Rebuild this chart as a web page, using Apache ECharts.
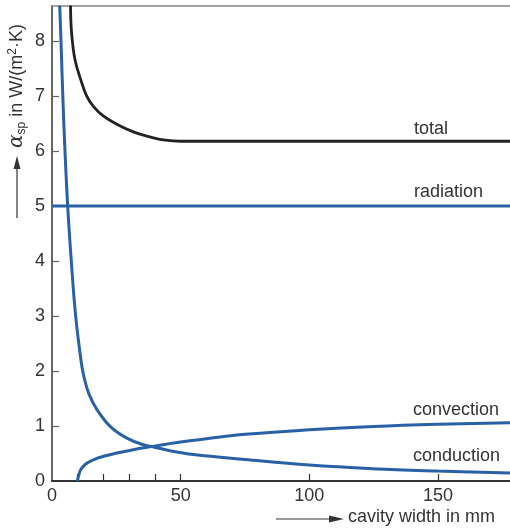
<!DOCTYPE html>
<html>
<head>
<meta charset="utf-8">
<script src="https://cdn.jsdelivr.net/npm/echarts@6/dist/echarts.min.js"></script>
<style>
  html, body { margin: 0; padding: 0; background: #fff; }
  #main { width: 510px; height: 530px; }
</style>
</head>
<body>
<div id="main"></div>
<script>
// 数据
var xLabelValues = [0, 50, 100, 150]
var xTickValues = [10, 20, 30, 40, 50, 100, 150]
var yLabelValues = [0, 1, 2, 3, 4, 5, 6, 7, 8]
var yTickValues = [1, 2, 3, 4, 5, 6, 7, 8]

var totalData = [
  [7.2, 8.65], [7.6, 8.16], [8.9, 7.67], [11.1, 7.31], [13.5, 7.0], [16.0, 6.82],
  [19.9, 6.64], [25.2, 6.49], [31.6, 6.35], [38.0, 6.26], [44.0, 6.2], [50, 6.18],
  [100, 6.18], [178, 6.18]
]
var radiationData = [[0, 5], [178, 5]]
var convectionData = [
  [9.9, 0], [10.3, 0.09], [11.1, 0.2], [13.1, 0.31], [16.3, 0.39], [20.1, 0.45],
  [25.2, 0.51], [31.6, 0.57], [39.3, 0.63], [45.7, 0.68], [50, 0.71], [60, 0.77],
  [75, 0.85], [100, 0.93], [125, 0.99], [150, 1.03], [178, 1.06]
]
var conductionData = [
  [3.0, 8.65], [3.6, 7.85], [4.2, 7.0], [5.0, 6.05], [6.1, 5.0], [7.5, 4.0], [9.2, 3.0],
  [11.4, 2.15], [12.4, 1.9], [14.3, 1.59], [17.6, 1.29], [22.7, 0.99], [29.1, 0.78],
  [35.5, 0.66], [39.5, 0.62], [45.8, 0.55], [55, 0.48], [75, 0.39], [100, 0.29],
  [127, 0.22], [150, 0.18], [178, 0.145]
]

var blue = "#2a60a6"
var dark = "#222222"
var textColor = "#333333"
var font = "Liberation Sans, Arial, Helvetica, sans-serif"

var chartDom = document.getElementById("main")
var myChart = echarts.init(chartDom)
var option = {
  animation: false,
  grid: { left: 52, right: 0, top: 6, bottom: 49 },
  xAxis: [
    {
      type: "value",
      min: 0,
      max: 178,
      axisLine: { lineStyle: { color: "#333", width: 2 } },
      axisTick: {
        show: true,
        inside: true,
        length: 7,
        customValues: xTickValues,
        lineStyle: { color: "#333", width: 1.2 }
      },
      axisLabel: {
        customValues: xLabelValues,
        color: textColor,
        fontSize: 18,
        fontFamily: font,
        margin: 6
      },
      splitLine: { show: false }
    },
    {
      type: "value",
      position: "top",
      min: 0,
      max: 178,
      axisLine: { show: true, lineStyle: { color: "#888", width: 1.5 } },
      axisTick: { show: false },
      axisLabel: { show: false },
      splitLine: { show: false }
    }
  ],
  yAxis: {
    type: "value",
    min: 0,
    max: 8.64,
    interval: 1,
    axisLine: { show: true, lineStyle: { color: "#666", width: 2 } },
    axisTick: {
      show: true,
      inside: true,
      length: 7,
      customValues: yTickValues,
      lineStyle: { color: "#666", width: 1.2 }
    },
    axisLabel: {
      customValues: yLabelValues,
      color: textColor,
      fontSize: 18,
      fontFamily: font,
      margin: 7
    },
    splitLine: { show: false }
  },
  series: [
    {
      name: "total",
      type: "line",
      data: totalData,
      smooth: 0.4,
      showSymbol: false,
      lineStyle: { color: dark, width: 2.8 }
    },
    {
      name: "radiation",
      type: "line",
      data: radiationData,
      showSymbol: false,
      lineStyle: { color: blue, width: 3 }
    },
    {
      name: "convection",
      type: "line",
      data: convectionData,
      smooth: 0.4,
      showSymbol: false,
      lineStyle: { color: blue, width: 3 }
    },
    {
      name: "conduction",
      type: "line",
      data: conductionData,
      smooth: 0.4,
      showSymbol: false,
      lineStyle: { color: blue, width: 3 }
    }
  ],
  graphic: [
    // 曲线标签
    { type: "text", left: 414, top: 120, style: { text: "total", fill: textColor, font: "18px " + font } },
    { type: "text", left: 414, top: 183, style: { text: "radiation", fill: textColor, font: "18px " + font } },
    { type: "text", left: 413, top: 401, style: { text: "convection", fill: textColor, font: "18px " + font } },
    { type: "text", left: 413, top: 447, style: { text: "conduction", fill: textColor, font: "18px " + font } },
    // y轴名称
    {
      type: "text",
      x: 17,
      y: 86,
      rotation: Math.PI / 2,
      style: {
        text: "{a|α}{sub|sp}{n| in W/(m}{sup|2}{n|·K)}",
        align: "center",
        verticalAlign: "middle",
        fill: textColor,
        rich: {
          a: { fontSize: 20, fontStyle: "italic", fontFamily: "DejaVu Serif, serif", fill: textColor },
          sub: { fontSize: 12, fontFamily: font, fill: textColor, padding: [10, 0, 0, 0] },
          n: { fontSize: 18, fontFamily: font, fill: textColor },
          sup: { fontSize: 12, fontFamily: font, fill: textColor, padding: [0, 0, 9, 0] }
        }
      }
    },
    { type: "line", shape: { x1: 17, y1: 218, x2: 17, y2: 165 }, style: { stroke: textColor, lineWidth: 1.2 } },
    { type: "polygon", shape: { points: [[17, 156], [13.5, 169], [20.5, 169]] }, style: { fill: textColor } },
    // x轴名称
    { type: "line", shape: { x1: 276, y1: 519, x2: 333, y2: 519 }, style: { stroke: textColor, lineWidth: 1.2 } },
    { type: "polygon", shape: { points: [[344, 519], [329, 515.5], [329, 522.5]] }, style: { fill: textColor } },
    { type: "text", left: 348, top: 508, style: { text: "cavity width in mm", fill: textColor, font: "18px " + font } }
  ]
}
option && myChart.setOption(option)
window.addEventListener("resize", function () {
  myChart.resize()
})
</script>
</body>
</html>
